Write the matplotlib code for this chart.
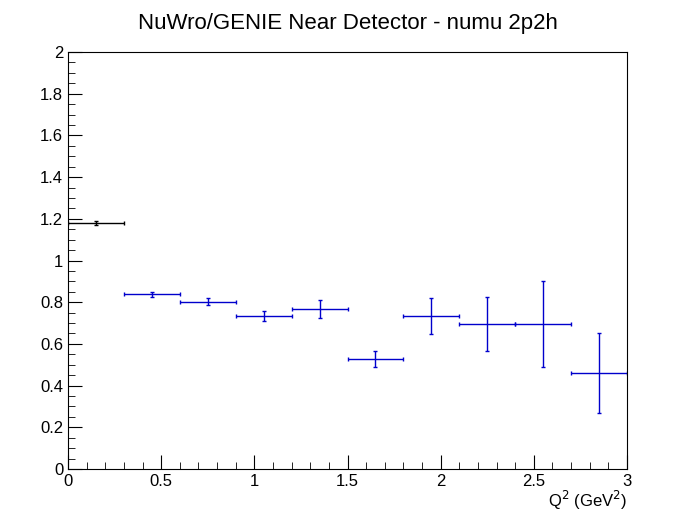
import matplotlib
matplotlib.use("Agg")
import matplotlib.pyplot as plt
from matplotlib.ticker import MultipleLocator

centers = [0.15, 0.45, 0.75, 1.05, 1.35, 1.65, 1.95, 2.25, 2.55, 2.85]
values = [1.18, 0.839, 0.803, 0.734, 0.767, 0.528, 0.734, 0.695, 0.695, 0.46]
yerrs = [0.01, 0.012, 0.018, 0.022, 0.042, 0.04, 0.085, 0.13, 0.205, 0.19]
xerr = 0.15
colors = ['black'] + ['#0000cc'] * 9

plt.rcParams['font.family'] = ['Liberation Sans', 'DejaVu Sans']
fig = plt.figure(figsize=(6.96, 5.22), dpi=100)
ax = fig.add_axes([0.0977, 0.1015, 0.8032, 0.7989])
for x, y, e, c in zip(centers, values, yerrs, colors):
    ax.errorbar(x, y, xerr=xerr, yerr=e, fmt='none', ecolor=c, elinewidth=1, capsize=1.5)
ax.set_xlim(0, 3)
ax.set_ylim(0, 2)
ax.xaxis.set_major_locator(MultipleLocator(0.5))
ax.xaxis.set_minor_locator(MultipleLocator(0.1))
ax.yaxis.set_major_locator(MultipleLocator(0.2))
ax.yaxis.set_minor_locator(MultipleLocator(0.05))
ax.tick_params(which='both', direction='in', top=False, right=False, labelsize=12)
ax.tick_params(which='major', length=10)
ax.tick_params(which='minor', length=5)
ax.set_xticks([0, 0.5, 1, 1.5, 2, 2.5, 3])
ax.set_xticklabels(['0', '0.5', '1', '1.5', '2', '2.5', '3'])
ax.set_yticks([0, 0.2, 0.4, 0.6, 0.8, 1, 1.2, 1.4, 1.6, 1.8, 2])
ax.set_yticklabels(['0', '0.2', '0.4', '0.6', '0.8', '1', '1.2', '1.4', '1.6', '1.8', '2'])
ax.set_xlabel('Q$^2$ (GeV$^2$)', fontsize=12, loc='right', labelpad=0)
fig.text(0.5, 0.955, 'NuWro/GENIE Near Detector - numu 2p2h', ha='center', va='center', fontsize=16)
fig.savefig('out.png', dpi=100)
